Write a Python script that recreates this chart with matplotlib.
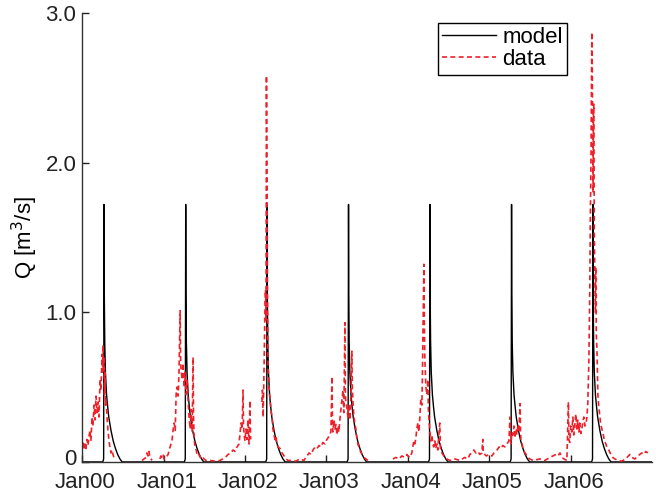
import datetime as dt
import numpy as np
import matplotlib
matplotlib.use('Agg')
import matplotlib.pyplot as plt
import matplotlib.transforms as mtransforms

nan = float('nan')

years = [2000, 2001, 2002, 2003, 2004, 2005, 2006]
tick_labels = ['Jan00', 'Jan01', 'Jan02', 'Jan03', 'Jan04', 'Jan05', 'Jan06']

# model hydrograph (same every year), day of year -> Q [m3/s]
model_doy = [0, 93, 97, 99, 100, 102, 105, 110, 115, 120, 130, 140, 150, 160, 170, 180, 365]
model_q = [0, 0, 0.02, 1.72, 1.13, 0.80, 0.60, 0.45, 0.37, 0.30, 0.21, 0.14, 0.09, 0.05, 0.02, 0, 0]

# observed discharge, day of year -> Q [m3/s]
doy_2000 = [0, 4, 9, 13, 18, 22, 27, 31, 36, 40, 45, 49, 54, 58, 63, 67, 72, 76, 81, 85,
            90, 92, 94, 96, 99, 101, 103, 105, 108, 112, 116, 121, 125, 130, 134, 139, 143, 148,
            150, 269, 278, 287, 291, 296, 300, 305, 314, 320, 349, 354, 358, 363]
q_2000 = [0.10, 0.14, 0.08, 0.12, 0.09, 0.15, 0.11, 0.17, 0.21, 0.14, 0.30, 0.24, 0.38, 0.28, 0.44, 0.33, 0.40, 0.30, 0.55, 0.48,
          0.72, 0.60, 0.78, 0.62, 0.70, 0.45, 0.60, 0.38, 0.42, 0.30, 0.22, 0.14, 0.10, 0.06, 0.08, 0.05, 0.03, 0.02,
          nan, 0.01, 0.02, 0.03, 0.06, 0.04, 0.07, 0.03, 0.01, nan, 0.02, 0.04, 0.03, 0.05]

doy_2001 = [2, 11, 20, 29, 38, 43, 47, 52, 56, 60, 65, 69, 74, 76, 78, 83, 87, 92, 96, 101,
            105, 110, 114, 119, 123, 128, 132, 134, 137, 141, 146, 150, 155, 164, 172, 181, 190, 208, 231, 253,
            276, 289, 302, 311, 320, 329, 338, 343, 347, 352, 356, 358, 361]
q_2001 = [0.02, 0.03, 0.05, 0.10, 0.15, 0.22, 0.26, 0.21, 0.45, 0.50, 0.44, 0.60, 1.01, 0.70, 0.62, 0.55, 0.66, 0.50, 0.60, 0.45,
          0.55, 0.40, 0.30, 0.22, 0.35, 0.20, 0.70, 0.30, 0.15, 0.10, 0.08, 0.05, 0.06, 0.03, 0.04, 0.02, 0.01, 0.01, 0.005, 0.01,
          0.03, 0.05, 0.06, 0.08, 0.07, 0.10, 0.12, 0.20, 0.26, 0.22, 0.48, 0.25, 0.18]

doy_2002 = [0, 4, 9, 13, 18, 22, 25, 30, 76, 78, 81, 85, 87, 90, 92, 94, 96, 99, 101, 103,
            108, 112, 116, 121, 125, 130, 134, 139, 143, 148, 157, 166, 175, 184, 193, 211, 228, 246, 264, 278,
            287, 296, 305, 314, 323, 332, 340, 349, 358]
q_2002 = [0.14, 0.22, 0.15, 0.28, 0.12, 0.41, 0.15, nan, 0.40, 0.48, 0.30, 0.60, 0.80, 1.10, 1.15, 0.95, 2.58, 1.80, 1.00, 0.65,
          0.50, 0.42, 0.35, 0.30, 0.22, 0.18, 0.15, 0.17, 0.12, 0.10, 0.09, 0.06, 0.04, 0.02, 0.01, 0.01, 0.005, 0.02, 0.01, 0.04,
          0.06, 0.05, 0.08, 0.10, 0.09, 0.11, 0.10, 0.13, 0.12]

doy_2003 = [2, 11, 20, 25, 27, 29, 34, 38, 43, 47, 52, 56, 60, 65, 69, 74, 78, 83, 85, 87,
            92, 96, 101, 105, 110, 114, 116, 119, 123, 128, 132, 137, 141, 150, 159, 168, 177, 186, 195, 298,
            311, 325, 338, 352, 361]
q_2003 = [0.15, 0.17, 0.20, 0.57, 0.25, 0.20, 0.28, 0.22, 0.25, 0.18, 0.24, 0.20, 0.28, 0.35, 0.40, 0.48, 0.33, 0.93, 0.45, 0.40,
          0.36, 0.30, 0.38, 0.28, 0.45, 0.74, 0.50, 0.40, 0.30, 0.25, 0.22, 0.15, 0.12, 0.08, 0.05, 0.03, 0.02, 0.01, nan, 0.02,
          0.03, 0.02, 0.04, 0.03, 0.05]

doy_2004 = [0, 9, 18, 22, 27, 31, 36, 40, 45, 49, 54, 58, 63, 65, 67, 69, 72, 74, 76, 81,
            85, 90, 92, 94, 99, 103, 108, 112, 116, 121, 125, 130, 134, 143, 146, 148, 157, 166, 175, 188,
            211, 233, 255, 269, 278, 287, 296, 305, 314, 323, 332, 336, 338, 352, 365]
q_2004 = [0.04, 0.03, 0.06, 0.10, 0.14, 0.12, 0.16, 0.22, 0.26, 0.20, 0.30, 0.42, 0.38, 0.55, 0.80, 1.00, 1.32, 0.90, 0.70, 0.50,
          0.45, 0.55, 0.35, 0.30, 0.20, 0.14, 0.18, 0.12, 0.10, 0.14, 0.09, 0.12, 0.08, 0.26, 0.10, 0.07, 0.05, 0.03, 0.02, 0.01,
          0.02, 0.01, 0.03, 0.02, 0.05, 0.06, 0.08, 0.06, 0.07, 0.05, 0.06, 0.15, 0.06, 0.04, 0.05]

doy_2005 = [2, 11, 20, 34, 43, 52, 60, 69, 78, 87, 92, 94, 96, 101, 105, 110, 114, 119, 123, 128,
            132, 137, 139, 141, 146, 150, 155, 164, 172, 181, 195, 226, 248, 271, 284, 298, 307, 316, 325, 334,
            347, 354, 356, 360, 364]
q_2005 = [0.05, 0.04, 0.06, 0.08, 0.10, 0.09, 0.11, 0.10, 0.12, 0.14, 0.30, 0.16, 0.12, 0.20, 0.18, 0.24, 0.16, 0.22, 0.18, 0.25,
          0.20, 0.39, 0.22, 0.14, 0.12, 0.09, 0.07, 0.05, 0.03, 0.02, 0.01, 0.02, 0.01, 0.03, 0.04, 0.05, 0.04, 0.06, 0.03, 0.02,
          0.01, 0.40, 0.15, 0.13, 0.24]

doy_2006 = [4, 9, 13, 18, 22, 27, 31, 36, 40, 45, 49, 54, 58, 63, 67, 72, 76, 81, 85, 87,
            90, 92, 94, 96, 99, 101, 103, 105, 108, 110, 112, 114, 117, 121, 125, 130, 134, 139, 143, 148,
            152, 157, 161, 170, 179, 188, 197, 211, 228, 246, 264, 273, 287, 300, 318, 327, 336, 345]
q_2006 = [0.20, 0.30, 0.18, 0.25, 0.32, 0.22, 0.28, 0.20, 0.26, 0.19, 0.22, 0.27, 0.30, 0.24, 0.25, 0.30, 0.40, 0.70, 1.20, 1.60,
          2.00, 2.40, 2.87, 2.60, 1.80, 2.30, 2.39, 1.50, 1.20, 1.00, 1.30, 0.85, 0.75, 0.45, 0.37, 0.30, 0.25, 0.22, 0.20, 0.16,
          0.14, 0.12, 0.10, 0.08, 0.05, 0.03, 0.02, 0.01, 0.005, 0.02, 0.05, 0.03, 0.02, 0.04, 0.06, 0.05, 0.07, 0.06]

obs_doy = [doy_2000, doy_2001, doy_2002, doy_2003, doy_2004, doy_2005, doy_2006]
obs_q = [q_2000, q_2001, q_2002, q_2003, q_2004, q_2005, q_2006]


def to_dates(year, doys):
    start = dt.datetime(year, 1, 1)
    return [start + dt.timedelta(days=float(d)) for d in doys]


model_t = []
model_v = []
data_t = []
data_v = []
for i, yr in enumerate(years):
    model_t += to_dates(yr, model_doy)
    model_v += model_q
    data_t += to_dates(yr, obs_doy[i])
    data_v += obs_q[i]

plt.rcParams['font.family'] = ['Liberation Sans', 'DejaVu Sans']

fig = plt.figure(figsize=(6.56, 4.93), dpi=100)
ax = fig.add_axes([0.125, 0.063, 0.869, 0.911])

ax.plot(model_t, model_v, color='black', lw=1.0, label='model')
ax.plot(data_t, data_v, color='#f0202a', lw=1.2, linestyle=(0, (3, 2)), label='data')

ax.set_xlim(dt.datetime(2000, 1, 1), dt.datetime(2006, 12, 31))
ax.set_ylim(0, 3.0)
ax.set_xticks([dt.datetime(y, 1, 1) for y in years])
ax.set_xticklabels(tick_labels)
ax.set_yticks([0, 1, 2, 3])
ax.set_yticklabels(['0', '1.0', '2.0', '3.0'])
ax.tick_params(direction='in', labelsize=16, colors='#222222', length=5, width=1)
ax.tick_params(axis='x', pad=7)
ax.tick_params(axis='y', pad=4)
# matlab puts the date labels a little right of the tick
shift = mtransforms.ScaledTranslation(3 / 100, 0, fig.dpi_scale_trans)
for lab in ax.get_xticklabels():
    lab.set_transform(lab.get_transform() + shift)
# and the zero label sits a bit above the axis line
up = mtransforms.ScaledTranslation(0, 5 / 100, fig.dpi_scale_trans)
zero_lab = ax.get_yticklabels()[0]
zero_lab.set_transform(zero_lab.get_transform() + up)
for s in ['top', 'right']:
    ax.spines[s].set_visible(False)
for s in ['left', 'bottom']:
    ax.spines[s].set_color('#333333')
    ax.spines[s].set_linewidth(1.0)

ax.set_ylabel('Q [m$^3$/s]', fontsize=16, labelpad=4)

leg = ax.legend(loc='upper right', bbox_to_anchor=(0.851, 0.978), borderaxespad=0,
                fontsize=16, fancybox=False, framealpha=1, edgecolor='black',
                handlelength=2.4, handletextpad=0.3, labelspacing=0.05, borderpad=0.2)
leg.get_frame().set_linewidth(1.0)

fig.savefig('out.png', dpi=100)
